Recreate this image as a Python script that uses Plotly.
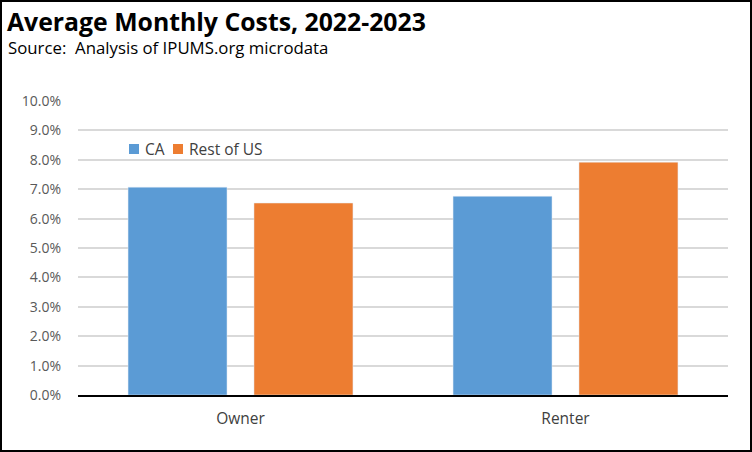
import plotly.graph_objects as go

categories = ["Owner", "Renter"]
ca_values = [0.0707, 0.0676]
rest_values = [0.0653, 0.0792]
series_names = ["CA", "Rest of US"]
series_colors = ["#5B9BD5", "#ED7D31"]
tick_vals = [i / 100 for i in range(0, 11)]
tick_text = [f"{i:.1f}%" for i in range(0, 11)]

W, H = 752, 452
L, R, T, B = 78, 24, 101, 57
pw, ph = W - L - R, H - T - B

def px(x):
    return (x - L) / pw

def py(y):
    return (H - B - y) / ph

fig = go.Figure()
fig.add_trace(go.Bar(x=categories, y=ca_values, name=series_names[0], marker_color=series_colors[0]))
fig.add_trace(go.Bar(x=categories, y=rest_values, name=series_names[1], marker_color=series_colors[1]))

font_family = "Open Sans, sans-serif"
title_family = "Open Sans, sans-serif"

# custom legend (squares + text)
legend_sq_x = [129, 173]
legend_tx_x = [143, 187]
legend_y = 149
shapes = []
annotations = []
for name, col, sx, tx in zip(series_names, series_colors, legend_sq_x, legend_tx_x):
    shapes.append(dict(type="rect", xref="paper", yref="paper",
                       x0=px(sx), x1=px(sx + 10), y0=py(legend_y + 5), y1=py(legend_y - 5),
                       fillcolor=col, line=dict(width=0)))
    annotations.append(dict(text=name, xref="paper", yref="paper", x=px(tx), y=py(legend_y),
                            xanchor="left", yanchor="middle", showarrow=False,
                            font=dict(size=15.5, color="#404040", family=font_family)))

annotations += [
    dict(text="<b>Average Monthly Costs, 2022-2023</b>", xref="paper", yref="paper",
         x=px(5), y=py(21), xanchor="left", yanchor="middle", showarrow=False,
         font=dict(size=24.8, color="black", family=title_family)),
    dict(text="Source:  Analysis of IPUMS.org microdata", xref="paper", yref="paper",
         x=px(6), y=py(48), xanchor="left", yanchor="middle", showarrow=False,
         font=dict(size=16.8, color="black", family=font_family)),
]
shapes.append(dict(type="rect", xref="paper", yref="paper", x0=px(1), x1=px(751), y0=py(451), y1=py(1),
                   line=dict(color="black", width=2), fillcolor="rgba(0,0,0,0)", layer="above"))

fig.update_layout(
    width=W, height=H,
    margin=dict(l=L, r=R, t=T, b=B, pad=0),
    paper_bgcolor="white", plot_bgcolor="white",
    barmode="group", bargap=0.225, bargroupgap=0.214,
    font=dict(family=font_family, color="#595959", size=14),
    showlegend=False,
    xaxis=dict(showgrid=False, showline=True, linecolor="black", linewidth=2,
               ticks="", tickfont=dict(size=15.5, color="#404040"), ticklabelstandoff=8,
               fixedrange=True),
    yaxis=dict(range=[0, 0.1], tickvals=tick_vals, ticktext=tick_text,
               showgrid=True, gridcolor="#D9D9D9", gridwidth=1.5,
               zeroline=False, showline=False, ticks="", ticklabelstandoff=16,
               tickfont=dict(size=14, color="#595959"), fixedrange=True),
    annotations=annotations,
    shapes=shapes,
)

fig.write_html("out.html", config={"displayModeBar": False},
               post_script="document.body.style.margin='0px';")
